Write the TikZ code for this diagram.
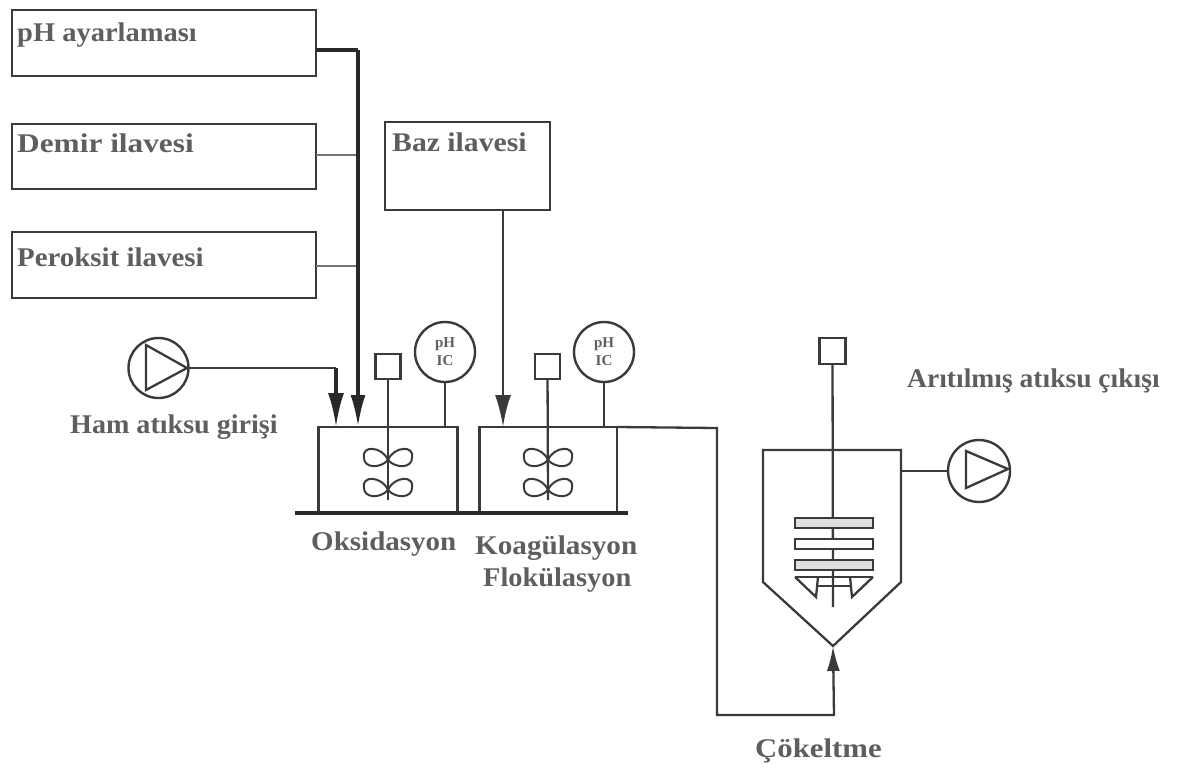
\documentclass[tikz,border=0pt]{standalone}
\usepackage{graphicx}
\usepackage{fontspec}
\setmainfont{Liberation Serif}
\usetikzlibrary{arrows.meta,calc}
\definecolor{ink}{HTML}{3A3A3A}
\definecolor{txt}{HTML}{5E5E5E}
\tikzset{
  line/.style={draw=ink,line width=2.3pt},
  thinline/.style={draw=ink!70,line width=1.8pt},
  heavy/.style={draw=ink!70!black,line width=3.4pt},
  feedbox/.style={draw=ink,line width=2.4pt,inner sep=0pt},
  sensorbox/.style={draw=ink,line width=2.4pt,fill=white,inner sep=0pt,minimum size=25pt},
  gauge/.style={draw=ink,line width=2.4pt,fill=white,circle,inner sep=0pt,minimum size=60pt,
    font=\fontsize{15}{20}\selectfont\bfseries,text=txt,align=center},
  pumpc/.style={draw=ink,line width=2.4pt,circle,inner sep=0pt,minimum size=60pt},
  lab/.style={text=txt,font=\fontsize{27}{30}\selectfont\bfseries,inner sep=0pt,anchor=base west},
  blade/.style={draw=ink,line width=2pt},
  plate/.style={draw=ink,line width=2.4pt,fill=black!12,inner sep=0pt,minimum width=78pt,minimum height=10pt}
}
\newcommand{\lobes}[2]{%
  \draw[blade] (#1,#2) .. controls (#1-6,#2-14) and (#1-27,#2-15) .. (#1-24,#2-2) .. controls (#1-24,#2+8) and (#1-8,#2+9) .. (#1,#2);
  \draw[blade] (#1,#2) .. controls (#1+6,#2-14) and (#1+27,#2-15) .. (#1+24,#2-2) .. controls (#1+24,#2+8) and (#1+8,#2+9) .. (#1,#2);
}
\newcommand{\wide}[2]{\scalebox{#1}[1]{#2}}
\begin{document}
\begin{tikzpicture}[x=1pt,y=-1pt]
\useasboundingbox (0,0) rectangle (1180,768);
% feed boxes
\node[feedbox,minimum width=304pt,minimum height=66pt] (ph) at (164,43) {};
\node[feedbox,minimum width=304pt,minimum height=65pt] (fe) at (164,156.5) {};
\node[feedbox,minimum width=304pt,minimum height=66pt] (per) at (164,265) {};
\node[feedbox,minimum width=165pt,minimum height=88pt] (baz) at (467.5,166) {};
\node[lab] (tph) at (17,42) {\wide{1.055}{pH ayarlaması}};
\node[lab] (tfe) at (17,152) {\wide{1.16}{Demir ilavesi}};
\node[lab] (tper) at (17,266) {\wide{1.07}{Peroksit ilavesi}};
\node[lab] (tbaz) at (392,151) {\wide{1.10}{Baz ilavesi}};
% tanks
\coordinate (t1nw) at (318.5,427);
\coordinate (t1ne) at (457.5,427);
\coordinate (t1sw) at (318.5,512);
\coordinate (t1se) at (457.5,512);
\coordinate (t2nw) at (479.5,427);
\coordinate (t2ne) at (617,427);
\coordinate (t2sw) at (479.5,512);
\coordinate (t2se) at (617,512);
\coordinate (bl) at (295,513);
\coordinate (br) at (628,513);
\draw[line] (t1sw) -- (t1nw) -- (t1ne) -- (t1se);
\draw[line] (t2sw) -- (t2nw) -- (t2ne) -- (t2se);
\draw[heavy] (bl) -- (br);
% trunk
\coordinate (trunktop) at (358,50);
\coordinate (j2) at (358,155);
\coordinate (j3) at (358,266);
\coordinate (t1in2) at (358,427);
\coordinate (t1in1) at (336,427);
\coordinate (phout) at (316,50);
\coordinate (feout) at (316,155);
\coordinate (perout) at (316,266);
\draw[heavy] (phout) -- (trunktop);
\draw[thinline] (feout) -- (j2);
\draw[thinline] (perout) -- (j3);
\draw[heavy,-{Latex[length=32pt,width=15pt]}] (trunktop) -- (t1in2);
% left pump
\node[pumpc] (p1) at (158.5,368) {};
\coordinate (p1a) at (146,345);
\coordinate (p1b) at (146,390);
\coordinate (p1c) at (187,368);
\draw[line] (p1a) -- (p1b) -- (p1c) -- cycle;
\coordinate (elb) at (336,368);
\draw[line] (p1c) -- (elb);
\draw[heavy,-{Latex[length=34pt,width=16pt]}] (elb) -- (t1in1);
% base addition
\coordinate (bazout) at (503,210);
\coordinate (t2in) at (503,427);
\draw[line,line width=2.8pt,-{Latex[length=32pt,width=16pt]}] (bazout) -- (t2in);
% mixers and gauges tank 1
\node[sensorbox] (m1) at (388,366.5) {};
\coordinate (m1e) at (388,500);
\draw[line] (m1) -- (m1e);
\lobes{388}{460}
\lobes{388}{490}
\node[gauge] (g1) at (445,352) {pH\\[-2pt]IC};
\coordinate (g1b) at (445,427);
\draw[line,line width=2.8pt] (g1) -- (g1b);
% tank 2
\node[sensorbox] (m2) at (547.5,366.5) {};
\coordinate (m2e) at (548,500);
\draw[line] (m2) -- (m2e);
\lobes{548}{460}
\lobes{548}{490}
\node[gauge] (g2) at (604,352) {pH\\[-2pt]IC};
\coordinate (g2b) at (604,427);
\draw[line,line width=2.8pt] (g2) -- (g2b);
% settler
\coordinate (snw) at (763,450);
\coordinate (sne) at (901,450);
\coordinate (sml) at (763,582);
\coordinate (smr) at (901,582);
\coordinate (apex) at (833,646);
\draw[line] (snw) -- (sne) -- (smr) -- (apex) -- (sml) -- cycle;
\node[sensorbox,minimum size=26pt] (m3) at (832.5,351) {};
\coordinate (m3e) at (833,607);
\draw[line] (m3) -- (m3e);
\node[plate] (pl1) at (834,523) {};
\node[plate,fill=white] (pl2) at (834,544) {};
\node[plate] (pl3) at (834,565) {};
\coordinate (sa) at (795,577);
\coordinate (sb) at (873,577);
\coordinate (sc) at (816,597);
\coordinate (sd) at (852,597);
\coordinate (se) at (818,577);
\coordinate (sf) at (850,577);
\draw[line] (sa) -- (sb);
\draw[line] (sa) -- (sc) -- (se);
\draw[line] (sb) -- (sd) -- (sf);
\coordinate (bara) at (816,586);
\coordinate (barb) at (852,586);
\draw[line] (bara) -- (barb);
% transfer pipe
\coordinate (pa) at (717,428);
\coordinate (pb) at (717,715);
\coordinate (pc) at (834,715);
\draw[line,-{Latex[length=25pt,width=13pt]}] (t2ne) -- (pa) -- (pb) -- (pc) -- (apex);
% outlet pump
\node[pumpc,minimum size=62pt] (p2) at (979,471) {};
\coordinate (p2a) at (966,451);
\coordinate (p2b) at (966,488);
\coordinate (p2c) at (1008,469);
\draw[line] (p2a) -- (p2b) -- (p2c) -- cycle;
\coordinate (sout) at (901,471);
\draw[line,line width=2.8pt] (sout) -- (p2);
% labels
\node[lab] (tham) at (70,433) {\wide{1.04}{Ham atıksu girişi}};
\node[lab] (tok) at (311,550) {\wide{1.075}{Oksidasyon}};
\node[lab] (tko) at (475,554) {\wide{1.08}{Koagülasyon}};
\node[lab] (tfl) at (483,586) {\wide{1.05}{Flokülasyon}};
\node[lab] (tco) at (755,757) {\wide{1.14}{Çökeltme}};
\node[lab] (tar) at (907,387) {\wide{1.02}{Arıtılmış atıksu çıkışı}};
\end{tikzpicture}
\end{document}
